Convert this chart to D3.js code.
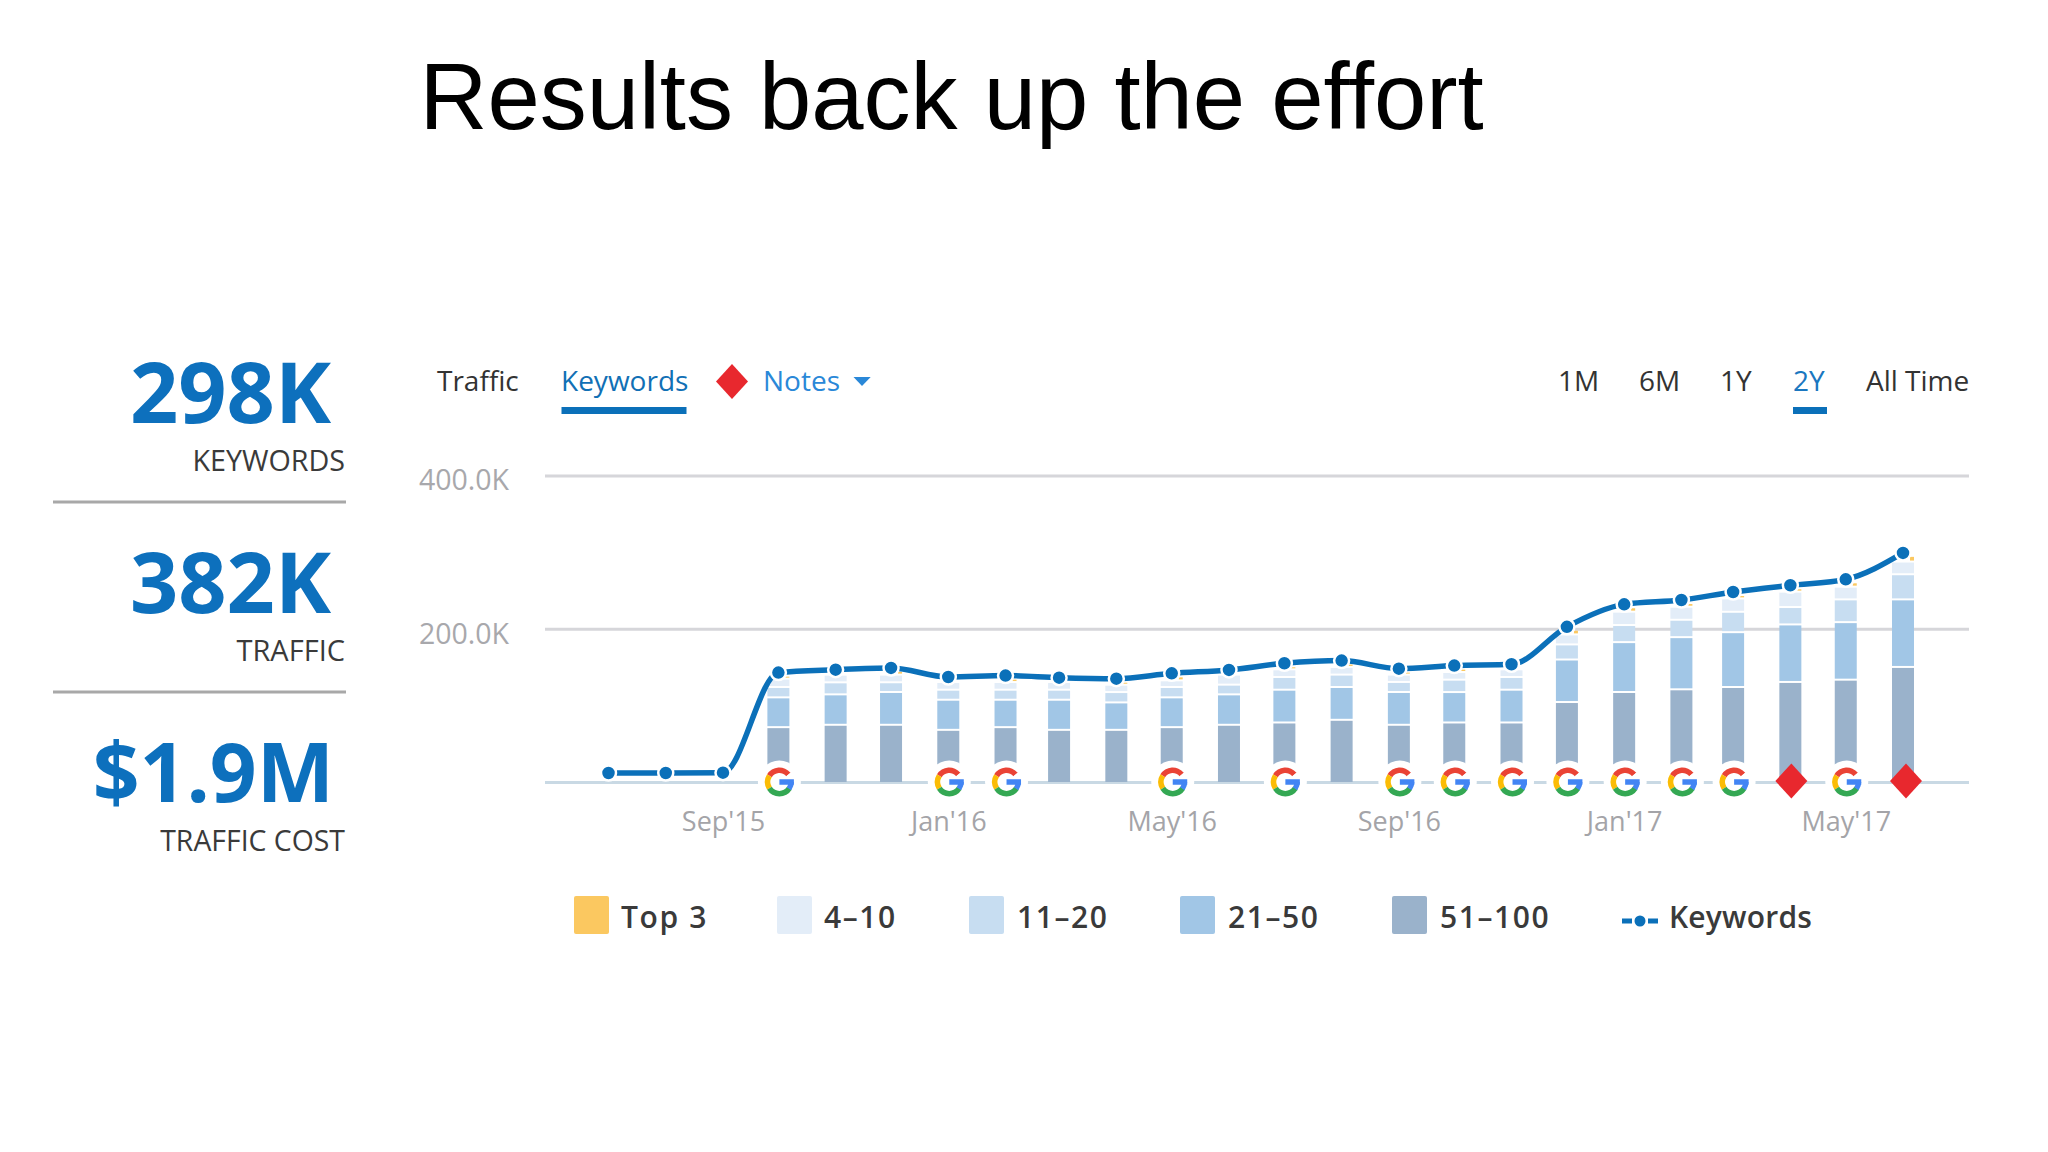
<!DOCTYPE html>
<html><head><meta charset="utf-8">
<script src="https://cdnjs.cloudflare.com/ajax/libs/d3/7.8.5/d3.min.js"></script>
<style>
html,body{margin:0;padding:0;background:#fff}
svg{display:block}
text{font-family:"Open Sans","Noto Sans",sans-serif}
</style></head><body>
<svg id="c" width="2048" height="1152" viewBox="0 0 2048 1152"></svg>
<script>
const months = ["2015-07","2015-08","2015-09","2015-10","2015-11","2015-12","2016-01","2016-02","2016-03","2016-04","2016-05","2016-06","2016-07","2016-08","2016-09","2016-10","2016-11","2016-12","2017-01","2017-02","2017-03","2017-04","2017-05","2017-06"];
const keywords = [11.8,11.8,12.2,142.8,146.7,148.9,137.1,138.9,136.2,134.9,141.9,146.3,155,158.5,148,152,153.7,202.6,231.9,237.6,248,256.8,264.6,299.1];
const barMonths = months.slice(3);
const r51_100 = [70.3,73.4,73.4,66.8,70.3,66.8,66.8,70.3,73.4,76.4,79.9,73.4,76.4,76.4,103.1,116.2,119.7,122.7,129.3,132.3,148.9];
const r21_50 = [38.9,39.7,42.8,39.3,35.8,39.3,35.8,38.9,39.7,42.8,42.8,42.8,39.7,42.8,55.5,65.1,68.1,71.6,75.1,75.1,88.2];
const r11_20 = [13.5,15.7,12.7,13.1,13.1,13.1,13.5,13.5,12.7,16.6,16.2,13.1,16.2,16.6,19.7,22.3,22.7,26.6,22.7,29.7,32.8];
const r4_10 = [10.9,10,10,10,10,10,9.6,8.7,13.1,10,10,9.6,10,10,13.1,17.5,17,17.5,20.1,16.6,16.6];
const top3 = [3.9,2.6,4.8,2.6,4.4,1.7,3.9,5.2,2.2,3.9,4.4,3.9,4.4,2.6,6.1,5.7,4.8,4.4,4.4,5.7,7.4];
const seriesNames = ["Top 3","4-10","11-20","21-50","51-100"];
const seriesColors = ["#fbc860","#e3edf8","#c7ddf1","#a1c6e6","#9ab2cb"];
const googleNotes = ["2015-10","2016-01","2016-02","2016-05","2016-07","2016-09","2016-10","2016-11","2016-12","2017-01","2017-02","2017-03","2017-05"];
const redNotes = ["2017-04","2017-06"];
const yTicks = [0,200,400];
const xTickMonths = ["2015-09","2016-01","2016-05","2016-09","2017-01","2017-05"];
const tabs = ["Traffic","Keywords","Notes"];
const ranges = ["1M","6M","1Y","2Y","All Time"];
const kpis = [["298K","KEYWORDS"],["382K","TRAFFIC"],["$1.9M","TRAFFIC COST"]];

const parse = d3.utcParse("%Y-%m");
const blue = "#0b70b9";
const svg = d3.select("#c");
svg.append("rect").attr("width",2048).attr("height",1152).attr("fill","#fff");

// title
svg.append("text").attr("x",419.5).attr("y",129).attr("font-size",94)
  .style("font-family","'Liberation Sans',Arial,sans-serif").attr("fill","#000")
  .text("Results back up the effort");

// KPI
const kpiBase = [423,613,802], kpiSub=[471,661,851], kpiRight=[331,331,334], kpiSize=[84.5,84.5,82], kpiSubSize=[28.7,29,28.4];
kpis.forEach((k,i)=>{
  svg.append("text").attr("x",kpiRight[i]).attr("y",kpiBase[i]).attr("text-anchor","end")
    .attr("font-size",kpiSize[i]).attr("font-weight",700).attr("fill","#0d70bd").text(k[0]);
  svg.append("text").attr("x",345).attr("y",kpiSub[i]).attr("text-anchor","end")
    .attr("font-size",kpiSubSize[i]).attr("fill","#3a3a3a").text(k[1]);
});
[502,692].forEach(y=>svg.append("rect").attr("x",53).attr("y",y-1.5).attr("width",293).attr("height",3).attr("fill","#a8a8a8"));

// scales
const x = d3.scaleUtc().domain([parse(months[0]),parse(months[23])]).range([608.5,1903]);
const y = d3.scaleLinear().domain([0,400]).range([782,475.6]);

// axes
const yAxis = svg.append("g").attr("transform","translate(545,0)")
  .call(d3.axisLeft(y).tickValues(yTicks).tickSize(-1424).tickPadding(36)
    .tickFormat(d=>d?d3.format(".1f")(d)+"K":""));
yAxis.select(".domain").remove();
yAxis.selectAll(".tick line").attr("stroke",d=>d?"#d6d6da":"#c9d9e4").attr("stroke-width",3);
yAxis.selectAll(".tick text").attr("font-size",28.5).attr("fill","#a8a8ac").attr("dy","0.5em")
  .style("font-family","'Open Sans',sans-serif");

const xAxis = svg.append("g").attr("transform","translate(0,831)")
  .call(d3.axisBottom(x).tickValues(xTickMonths.map(parse)).tickSize(0).tickPadding(0)
     .tickFormat(d=>d3.utcFormat("%b'%y")(d)));
xAxis.select(".domain").remove();
xAxis.selectAll(".tick text").attr("font-size",27).attr("fill","#a4a4a8").attr("dy",0);

// stacked bars
const bw = 22, gap = 2;
const stackColors = [seriesColors[4],seriesColors[3],seriesColors[2],seriesColors[1]];
const table = barMonths.map((m,i)=>({m:parse(m),a:r51_100[i],b:r21_50[i],c:r11_20[i],d:r4_10[i],e:top3[i]}));
const stacked = d3.stack().keys(["a","b","c","d","e"])(table);
const gBars = svg.append("g");
stacked.forEach((layer,li)=>{
  const isTop = li===4;
  gBars.append("g").attr("fill",isTop?seriesColors[0]:stackColors[li]).selectAll("rect").data(layer).join("rect")
    .attr("x",d=>x(d.data.m)+(isTop?bw/2-4:-bw/2))
    .attr("width",isTop?4:bw)
    .attr("y",d=>y(d[1]))
    .attr("height",d=>Math.max(0,y(d[0])-y(d[1])-(li===0?0:gap)));
});

// line
const pts = months.map((m,i)=>({d:parse(m),v:keywords[i]}));
const line = d3.line().x(d=>x(d.d)).y(d=>y(d.v)).curve(d3.curveMonotoneX);
svg.append("path").datum(pts).attr("d",line).attr("fill","none").attr("stroke",blue).attr("stroke-width",5.5);
svg.append("g").selectAll("circle").data(pts).join("circle")
  .attr("cx",d=>x(d.d)).attr("cy",d=>y(d.v)).attr("r",7.5)
  .attr("fill",blue).attr("stroke","#fff").attr("stroke-width",2.5);

// Google note icon
function drawG(g,cx,cy,R){
  const gi = g.append("g").attr("transform",`translate(${cx},${cy})`);
  gi.append("circle").attr("r",R+7).attr("fill","#fff");
  const t=R*0.38, rad=Math.PI/180;
  const arc=d3.arc().innerRadius(R-t).outerRadius(R);
  gi.append("path").attr("d",arc({startAngle:-58*rad,endAngle:50*rad})).attr("fill","#ea4335");
  gi.append("path").attr("d",arc({startAngle:-122*rad,endAngle:-58*rad})).attr("fill","#fbbc05");
  gi.append("path").attr("d",arc({startAngle:122*rad,endAngle:238*rad})).attr("fill","#34a853");
  gi.append("path").attr("d",arc({startAngle:90*rad,endAngle:125*rad})).attr("fill","#4285f4");
  gi.append("path").attr("d",arc({startAngle:50*rad,endAngle:90*rad})).attr("fill","#fff");
  gi.append("rect").attr("x",0).attr("y",-t/2).attr("width",R).attr("height",t).attr("fill","#4285f4");
}
const gNotes = svg.append("g");
googleNotes.forEach(m=>drawG(gNotes,x(parse(m))+1,782,14.5));
const diamond = (cx,cy,w,h)=>`M${cx},${cy-h/2}L${cx+w/2},${cy}L${cx},${cy+h/2}L${cx-w/2},${cy}Z`;
redNotes.forEach((m,i)=>svg.append("path").attr("d",diamond(x(parse(m))+(i?3:1),781,32,35)).attr("fill","#e8282e"));

// tabs
const tabX=[437,561,763], tabCol=["#333","#1170b5","#2a88d8"];
tabs.forEach((t,i)=>svg.append("text").attr("x",tabX[i]).attr("y",391).attr("font-size",28).attr("fill",tabCol[i]).text(t));
svg.append("rect").attr("x",561.5).attr("y",407).attr("width",125).attr("height",7).attr("fill",blue);
svg.append("path").attr("d",diamond(732,381.5,32,35)).attr("fill","#e8282e");
svg.append("path").attr("d","M853.5,377L870.7,377L862,386Z").attr("fill","#2a88d8");
const rangeX=[1558,1639,1720,1793,1866];
ranges.forEach((t,i)=>svg.append("text").attr("x",rangeX[i]).attr("y",391).attr("font-size",28)
  .attr("fill",t==="2Y"?"#1a77c0":"#333").text(t));
svg.append("rect").attr("x",1793).attr("y",407).attr("width",34).attr("height",7).attr("fill",blue);

// legend
const lgSw=[574,777,969,1180,1392], lgTx=[621,824,1017,1228,1440];
seriesNames.forEach((n,i)=>{
  svg.append("rect").attr("x",lgSw[i]).attr("y",896).attr("width",35).attr("height",38).attr("rx",2).attr("fill",seriesColors[i]);
  svg.append("text").attr("x",lgTx[i]).attr("y",928).attr("font-size",30).attr("font-weight",600).attr("letter-spacing",1.6).attr("fill","#3a3a3a").text(n.replace("-","\u2013"));
});
svg.append("line").attr("x1",1622).attr("x2",1658).attr("y1",921).attr("y2",921).attr("stroke",blue).attr("stroke-width",5).attr("stroke-dasharray","10 3 10 3 10");
svg.append("circle").attr("cx",1640).attr("cy",921).attr("r",6.5).attr("fill",blue).attr("stroke","#fff").attr("stroke-width",2);
svg.append("text").attr("x",1669).attr("y",928).attr("font-size",30).attr("font-weight",600).attr("letter-spacing",0.2).attr("fill","#3a3a3a").text("Keywords");
</script>
</body></html>
